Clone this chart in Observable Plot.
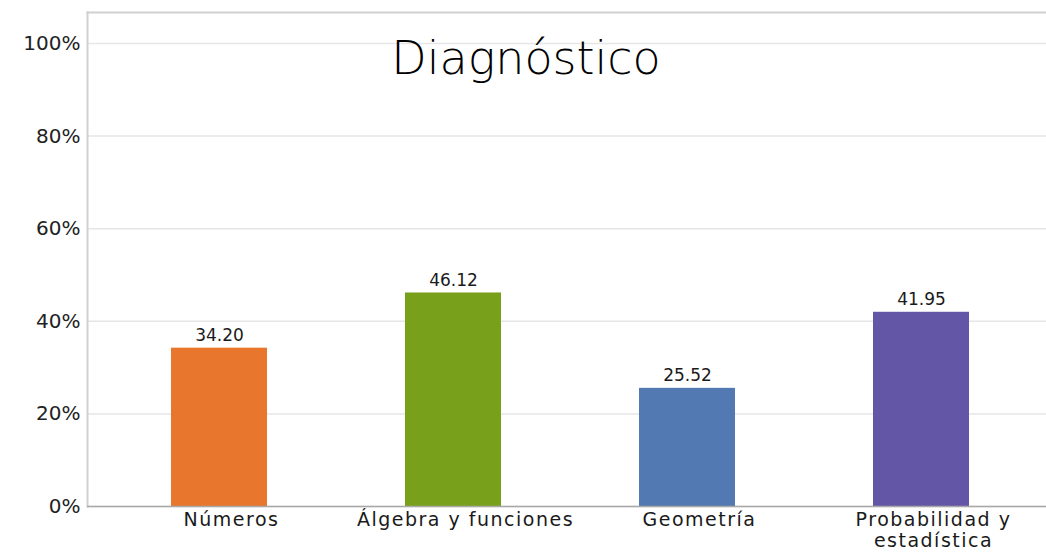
<!DOCTYPE html>
<html>
<head>
<meta charset="utf-8">
<script src="https://cdn.jsdelivr.net/npm/d3@7"></script>
<script src="https://cdn.jsdelivr.net/npm/@observablehq/plot@0.6"></script>
<style>
  html, body { margin: 0; padding: 0; background: #fff; }
  #chart svg { display: block; }
  #chart g[aria-label="x-axis tick label"] text { letter-spacing: 1.5px; }
</style>
</head>
<body>
<div id="chart"></div>
<script>
const title = "Diagnóstico";
const categories = ["Números", "Álgebra y funciones", "Geometría", "Probabilidad y estadística"];
const tickLabels = ["Números", "Álgebra y funciones", "Geometría", "Probabilidad y\nestadística"];
const values = [34.20, 46.12, 25.52, 41.95];
const colors = ["#e8762d", "#78a01b", "#5279b1", "#6456a6"];
const yTicks = [0, 20, 40, 60, 80, 100];
const yMax = 106.7;

const data = categories.map((c, i) => ({category: c, value: values[i], color: colors[i]}));
const labelOf = new Map(categories.map((c, i) => [c, tickLabels[i]]));

const chart = Plot.plot({
  width: 1046,
  height: 552,
  marginLeft: 87,
  marginRight: 0,
  marginTop: 12,
  marginBottom: 46,
  style: {fontFamily: "DejaVu Sans, sans-serif", background: "#fff"},
  x: {domain: categories, range: [102, 1038], paddingInner: 0.59, paddingOuter: 0.295, label: null},
  y: {domain: [0, yMax], label: null},
  marks: [
    Plot.gridY(yTicks, {stroke: "#e6e6e6", strokeOpacity: 1, strokeWidth: 1.5}),
    Plot.frame({anchor: "top", stroke: "#d0d0d0", strokeWidth: 2}),
    Plot.frame({anchor: "left", stroke: "#d0d0d0", strokeWidth: 2}),
    Plot.barY(data, {x: "category", y: "value", fill: "color"}),
    Plot.ruleY([0], {stroke: "#a8a8a8", strokeWidth: 1.5}),
    Plot.text(data, {x: "category", y: "value", text: d => d.value.toFixed(2), dy: -7, lineAnchor: "bottom", fontSize: 17, fill: "#1a1a1a", fontFamily: "DejaVu Sans, sans-serif"}),
    Plot.axisY({ticks: yTicks, tickFormat: d => d + "%", tickSize: 0, tickPadding: 7, fontSize: 20, fill: "#222", fontFamily: "DejaVu Sans, sans-serif"}),
    Plot.axisX({tickFormat: d => labelOf.get(d), tickSize: 0, tickPadding: 5, dx: 12, fontSize: 19, fill: "#1a1a1a", lineHeight: 1.1, fontFamily: "DejaVu Sans, sans-serif"}),
    Plot.text([title], {frameAnchor: "top", dx: -41, dy: 47, text: d => d, fontSize: 46, fontWeight: 200, fill: "#000", fontFamily: "DejaVu Sans, sans-serif", lineAnchor: "middle"})
  ]
});
document.getElementById("chart").append(chart);
</script>
</body>
</html>
